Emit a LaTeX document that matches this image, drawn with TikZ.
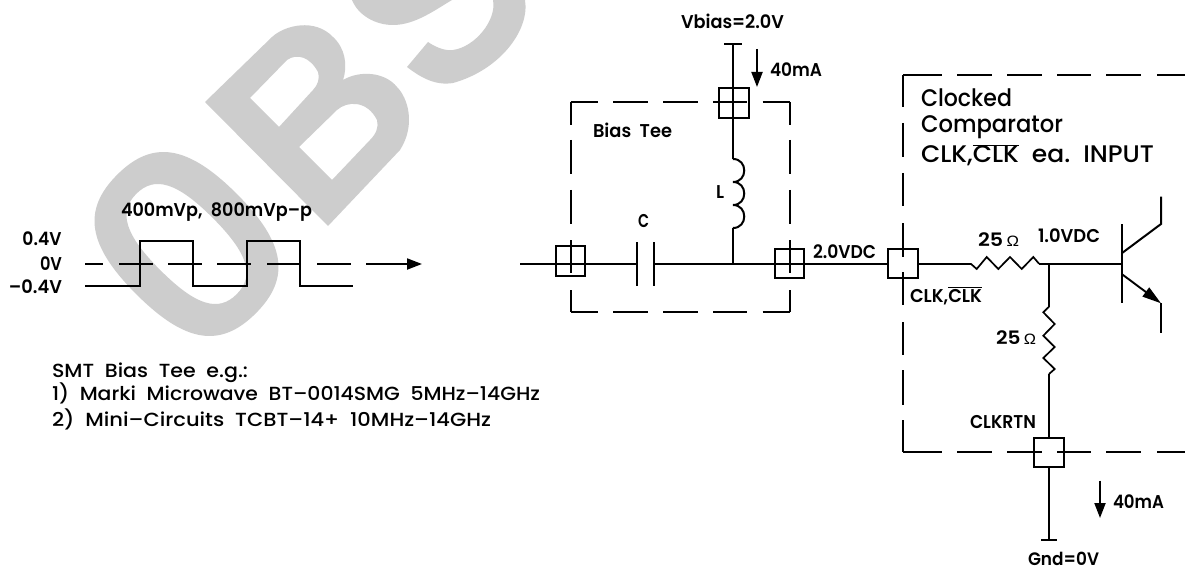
\documentclass[tikz,border=0pt]{standalone}
\usepackage{fontspec}
\usepackage{graphicx}
\setmainfont{Poppins}
\newfontfamily\labfont{Poppins SemiBold}
\newfontfamily\notefont{Poppins Medium}
\newfontfamily\bigfont{Poppins Medium}
\newfontfamily\omfont{Liberation Sans}
\usetikzlibrary{arrows.meta}
\definecolor{wm}{RGB}{205,205,205}
\newcommand{\fitw}[2]{\resizebox{#1pt}{\height}{#2}}
\newcommand{\ovl}[1]{\ensuremath{\overline{\mbox{#1}}}}
\newcommand{\ohm}{{\omfont\fontsize{15}{15}\selectfont Ω}}
\tikzset{
  x=1pt,y=-1pt,
  wire/.style={line width=2pt,line cap=butt,line join=miter},
  dbox/.style={line width=2pt},
  port/.style={draw,line width=2pt,minimum size=29.5pt,inner sep=0pt},
  lab/.style={anchor=base west,inner sep=0pt,outer sep=0pt,font=\labfont\fontsize{18.5}{20}\selectfont},
  note/.style={anchor=base west,inner sep=0pt,outer sep=0pt,font=\notefont\fontsize{19}{20}\selectfont},
  bigl/.style={anchor=base west,inner sep=0pt,outer sep=0pt,font=\bigfont\fontsize{24}{26}\selectfont},
  flow/.style={line width=2pt,-{Triangle[length=15pt,width=11pt]}},
}
\begin{document}
\begin{tikzpicture}
\useasboundingbox (0,0) rectangle (1185,572);
\fill[white] (0,0) rectangle (1185,572);
% watermark
\begin{scope}
\clip (0,0) rectangle (1185,572);
\begin{scope}[rotate around={-45:(186.5,244)},shift={(186.5,244)}]
\fill[wm,even odd rule]
  (98,0) .. controls (98,50) and (69,71) .. (0,71) .. controls (-69,71) and (-98,50) .. (-98,0)
  .. controls (-98,-50) and (-69,-71) .. (0,-71) .. controls (69,-71) and (98,-50) .. (98,0) -- cycle
  (71,0) .. controls (71,26) and (50,37) .. (0,37) .. controls (-50,37) and (-71,26) .. (-71,0)
  .. controls (-71,-26) and (-50,-37) .. (0,-37) .. controls (50,-37) and (71,-26) .. (71,0) -- cycle;
\end{scope}
\fill[wm,even odd rule]
  (205,102) -- (272,37) .. controls (285,25) and (315,18) .. (333,37)
  .. controls (345,48) and (348,65) .. (343,80)
  .. controls (360,70) and (385,72) .. (397,87)
  .. controls (408,98) and (416,125) .. (400,150)
  -- (328,226) -- cycle
  (250,98) -- (287,60) .. controls (297,53) and (310,57) .. (318,72)
  .. controls (320,78) and (318,85) .. (313,90) -- (279,127) -- cycle
  (299,147) -- (337,110) .. controls (347,101) and (367,100) .. (377,120)
  .. controls (379,127) and (376,134) .. (370,140) -- (332,180) -- cycle;
\fill[wm]
  (407,67) -- (428,42) .. controls (438,49) and (448,51) .. (453,50)
  .. controls (475,47) and (497,20) .. (493,0)
  -- (525,0) .. controls (530,30) and (500,70) .. (453,83)
  .. controls (435,86) and (420,77) .. (407,67) -- cycle
  (352,0) .. controls (358,15) and (375,25) .. (393,25) .. controls (415,25) and (435,10) .. (452,0) -- cycle;
\end{scope}
% waveform
\coordinate (wa) at (85,264); \coordinate (wb) at (422,264);
\draw[line width=2pt,dash pattern=on 18pt off 16pt on 34pt off 15pt on 34pt off 15pt on 34pt off 16pt on 34pt off 16pt on 34pt off 15pt on 60pt,-{Triangle[length=15pt,width=11pt]}] (wa) -- (wb);
\coordinate (ps) at (85,286); \coordinate (pe) at (353,286);
\draw[wire] (ps) -- (140,286) -- (140,241) -- (193,241) -- (193,286) -- (246.5,286) -- (246.5,241) -- (299.5,241) -- (299.5,286) -- (pe);
\node[lab] (l04) at (22.5,245) {\fitw{39}{0.4V}};
\node[lab] (l0) at (40,270) {\fitw{22}{0V}};
\node[lab] (lm) at (9,293) {\fitw{53}{–0.4V}};
\node[lab] (ltop) at (121,217) {\fitw{191}{400mVp,\ \ 800mVp–p}};
% bias tee
\coordinate (tl) at (570.5,102); \coordinate (tr) at (790,102);
\coordinate (bl) at (570.5,312); \coordinate (br) at (790,312);
\draw[dbox,dash pattern=on 27.5pt off 15pt on 35pt off 15pt on 35pt off 15pt on 34pt off 15.5pt on 30pt] (tl) -- (tr);
\draw[dbox,dash pattern=on 27.5pt off 15pt on 35pt off 15pt on 35pt off 15pt on 34pt off 15.5pt on 30pt] (bl) -- (br);
\draw[dbox,dash pattern=on 23pt off 15pt on 34pt off 16pt on 34pt off 16pt on 33pt off 17pt on 30pt] (tl) -- (bl);
\draw[dbox,dash pattern=on 23pt off 15pt on 34pt off 16pt on 34pt off 16pt on 33pt off 17pt on 30pt] (tr) -- (br);
\node[port] (pL) at (570.5,261) {};
\node[port] (pR) at (789.5,263.7) {};
\node[port] (pT) at (734,103) {};
\coordinate (in) at (520,263.7);
\coordinate (c1) at (637,263.7); \coordinate (c2) at (653.5,263.7);
\coordinate (c1a) at (637,242); \coordinate (c1b) at (637,285.5);
\coordinate (c2a) at (653.5,242); \coordinate (c2b) at (653.5,285.5);
\coordinate (j) at (733,263.7);
\coordinate (i2) at (733,228); \coordinate (i1) at (733,159);
\coordinate (vt) at (733,44); \coordinate (vl) at (724,44); \coordinate (vr) at (741.5,44);
\draw[wire] (in) -- (c1);
\draw[wire] (c1a) -- (c1b);
\draw[wire] (c2a) -- (c2b);
\draw[wire] (j) -- (i2);
\draw[wire] (i2) .. controls (748,228) and (748,205) .. (733,205) .. controls (748,205) and (748,182) .. (733,182) .. controls (748,182) and (748,159) .. (733,159);
\draw[wire] (i1) -- (vt);
\draw[wire] (vl) -- (vr);
\coordinate (a1s) at (757,49); \coordinate (a1e) at (757,87);
\draw[flow] (a1s) -- (a1e);
\node[lab] (vb) at (681,29) {\fitw{103}{Vbias=2.0V}};
\node[lab] (ma1) at (770,77) {\fitw{52}{40mA}};
\node[lab] (bt) at (593,138) {\fitw{79}{Bias\ \ Tee}};
\node[lab] (nL) at (716,199) {\fitw{8}{L}};
\node[lab] (nC) at (638,228) {\fitw{11}{C}};
\node[lab] (dc2) at (813,258) {\fitw{63}{2.0VDC}};
% comparator
\coordinate (ctl) at (903,75); \coordinate (ctr) at (1185,75);
\coordinate (cbl) at (903,452); \coordinate (cbr) at (1185,452);
\draw[dbox,dash pattern=on 39pt off 15pt on 35pt off 15pt on 35pt off 15pt on 34pt off 15pt on 35pt off 16pt on 40pt] (ctl) -- (ctr);
\draw[dbox,dash pattern=on 39pt off 15pt on 35pt off 15pt on 35pt off 15pt on 34pt off 15pt on 35pt off 16pt on 40pt] (cbl) -- (cbr);
\draw[dbox,dash pattern=on 32pt off 16pt on 34pt off 16pt on 33pt off 17pt on 34pt off 15pt on 33pt off 17pt on 33pt off 15pt on 35pt off 15pt on 50pt] (ctl) -- (cbl);
\node[port] (pC) at (903,263.7) {};
\node[port] (pB) at (1049,452.3) {};
\draw[wire] (c2) -- (pC.west);
\coordinate (r1a) at (970.7,263.7); \coordinate (r1b) at (1039,263.7);
\coordinate (jr) at (1049,263.7);
\coordinate (base) at (1121.7,263.7);
\draw[wire] (pC.east) -- (r1a);
\draw[line width=1.7pt] (r1a) -- (976.7,269) -- (986.7,257) -- (998.3,269) -- (1010,257) -- (1021.7,269) -- (1033.3,257) -- (r1b);
\draw[wire] (r1b) -- (base);
\coordinate (bt1) at (1121.7,224); \coordinate (bt2) at (1121.7,303);
\draw[line width=1.6pt] (bt1) -- (bt2);
\coordinate (cs) at (1121.7,253.3); \coordinate (ce) at (1161,224); \coordinate (ct) at (1161,196.7);
\draw[wire] (cs) -- (ce) -- (ct);
\coordinate (es) at (1121.7,274); \coordinate (ee) at (1161,303.3); \coordinate (et) at (1161,332.7);
\draw[line width=1.9pt,-{Triangle[length=19pt,width=11pt]}] (es) -- (ee);
\draw[wire] (ee) -- (et);
\coordinate (r2a) at (1049,306.7); \coordinate (r2b) at (1049,374);
\draw[wire] (jr) -- (r2a);
\draw[line width=1.7pt] (r2a) -- (1043.3,312.3) -- (1054.7,324) -- (1043.3,335.7) -- (1054.7,347) -- (1043.3,358) -- (1054.7,369) -- (r2b);
\draw[wire] (r2b) -- (pB.north);
\coordinate (gt) at (1049,540); \coordinate (gl) at (1041,540); \coordinate (gr) at (1057,540);
\draw[wire] (pB.south) -- (gt);
\draw[wire] (gl) -- (gr);
\coordinate (a2s) at (1100,480.7); \coordinate (a2e) at (1100,518);
\draw[flow] (a2s) -- (a2e);
\node[bigl] (t1) at (921,107) {\fitw{91}{Clocked}};
\node[bigl] (t2) at (921,133) {\fitw{142}{Comparator}};
\node[bigl] (t3) at (921,163) {\fitw{233}{CLK,\ovl{CLK}\ \ ea.\ \ INPUT}};
\node[lab] (clk) at (910,302) {\fitw{72}{CLK,\ovl{CLK}}};
\node[lab] (r1l) at (978,247) {\fitw{41}{25\,\ohm}};
\node[lab] (v1) at (1038,243) {\fitw{62}{1.0VDC}};
\node[lab] (r2l) at (996,344) {\fitw{40}{25\,\ohm}};
\node[lab] (rtn) at (970,428) {\fitw{66}{CLKRTN}};
\node[lab] (ma2) at (1113,508) {\fitw{51}{40mA}};
\node[lab] (gnd) at (1028,565.5) {\fontsize{18}{20}\selectfont\fitw{71}{Gnd=0V}};
% notes
\node[note] (n1) at (52,377) {\fitw{196}{SMT\ \ Bias\ \ Tee\ \ e.g.:}};
\node[note] (n2) at (52,400) {\fitw{488}{1)\ \ Marki\ \ Microwave\ \ BT–0014SMG\ \ 5MHz–14GHz}};
\node[note] (n3) at (52,426) {\fitw{439}{2)\ \ Mini–Circuits\ \ TCBT–14+\ \ 10MHz–14GHz}};
\end{tikzpicture}
\end{document}
